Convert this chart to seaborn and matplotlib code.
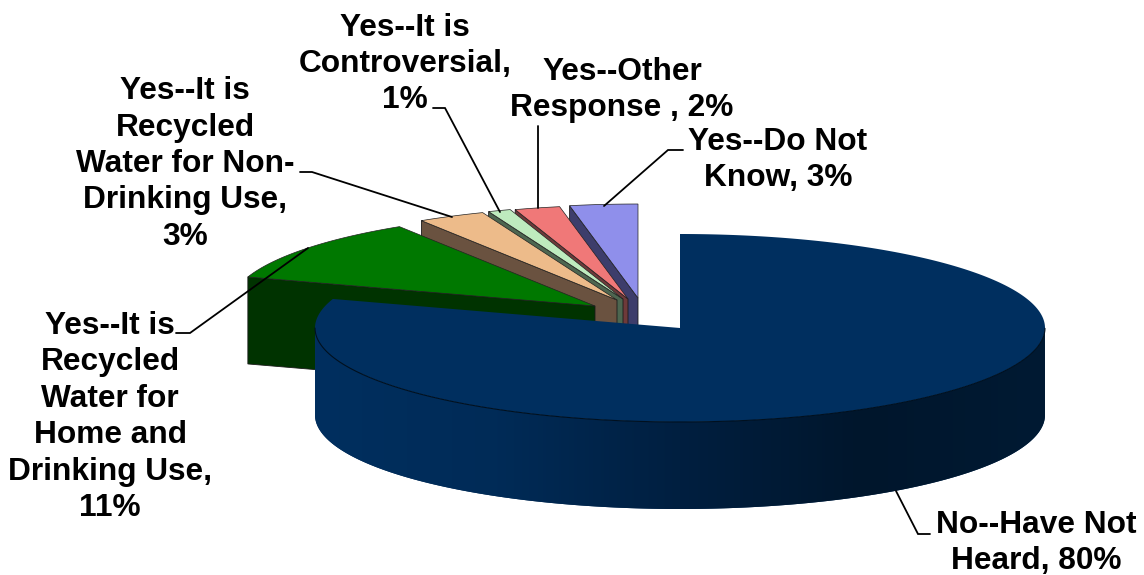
"""Survey pie: have you heard of recycled water, drawn as an exploded 3D pie."""

import matplotlib

matplotlib.use("Agg")

import matplotlib.pyplot as plt
import numpy as np
import seaborn as sns
from matplotlib.colors import LinearSegmentedColormap

# share of answers, clockwise from 12 o'clock
labels = [
    "No--Have Not\nHeard, 80%",
    "Yes--It is\nRecycled\nWater for\nHome and\nDrinking Use,\n11%",
    "Yes--It is\nRecycled\nWater for Non-\nDrinking Use,\n3%",
    "Yes--It is\nControversial,\n1%",
    "Yes--Other\nResponse , 2%",
    "Yes--Do Not\nKnow, 3%",
]
values = [80, 11, 3, 1, 2, 3]

top_colors = ["#002F5F", "#007800", "#EDBB8A", "#BEEBBE", "#F07878", "#8F8FEB"]
wall_colors = ["#002A55", "#003300", "#6A5240", "#4D6650", "#6E3A3A", "#3D3D6B"]

# pie geometry in pixels
CX, CY = 680, 328
RX, RY = 365, 94
DEPTH = 87
# how far each slice is pulled away from the centre
offsets = [(0, 0), (-85, -22), (-63, -28), (-57, -29), (-52, -29), (-42, -30)]

label_pos = [(1036, 543), (110, 417), (185, 164), (405, 64), (622, 90), (778, 160)]
leaders = [
    [(896, 491), (918, 534), (930, 534)],
    [(308, 248), (190, 333), (176, 333)],
    [(452, 217), (312, 172), (300, 172)],
    [(500, 212), (445, 108), (433, 108)],
    [(538, 208), (538, 126)],
    [(604, 206), (668, 150), (683, 150)],
]


def rim(theta, dx=0, dy=0):
    """Point on the pie rim, theta in degrees clockwise from the top."""
    rad = np.radians(theta)
    return CX + dx + RX * np.sin(rad), CY + dy - RY * np.cos(rad)


sns.set_theme(style="white")
plt.rcParams["font.family"] = ["Liberation Sans", "DejaVu Sans"]

fig, ax = plt.subplots(figsize=(11.44, 5.75), dpi=100)
fig.subplots_adjust(left=0, right=1, bottom=0, top=1)
ax.set_axis_off()

ends = np.cumsum(values) / np.sum(values) * 360
starts = np.r_[0, ends[:-1]]

# back slices first, the big one last so it covers their walls
for i in range(len(values) - 1, 0, -1):
    dx, dy = offsets[i]
    ax_x, ax_y = CX + dx, CY + dy
    edge_x, edge_y = rim(starts[i], dx, dy)
    ax.fill(
        [edge_x, ax_x, ax_x, edge_x],
        [edge_y, ax_y, ax_y + DEPTH, edge_y + DEPTH],
        color=wall_colors[i],
        ec="#1a1a1a",
        lw=0.6,
    )
    arc_x, arc_y = rim(np.linspace(starts[i], ends[i], 60), dx, dy)
    ax.fill(
        np.r_[ax_x, arc_x],
        np.r_[ax_y, arc_y],
        color=top_colors[i],
        ec="#222222",
        lw=0.5,
    )

# outer wall of the big slice, shaded from left to right
side_x, side_y = rim(np.linspace(90, 270, 200))
wall = ax.fill(
    np.r_[side_x, side_x[::-1]],
    np.r_[side_y, side_y[::-1] + DEPTH],
    color=wall_colors[0],
    lw=0,
)[0]
shade = LinearSegmentedColormap.from_list(
    "wall", ["#002F5F", "#002B57", "#001F40", "#00162C", "#001A33"]
)
gradient = ax.imshow(
    np.linspace(0, 1, 256)[None, :],
    cmap=shade,
    extent=(CX - RX, CX + RX, CY + RY + DEPTH, CY - RY),
    aspect="auto",
    zorder=wall.get_zorder() + 0.1,
)
gradient.set_clip_path(wall)

big_theta = np.linspace(starts[0], ends[0], 400)
arc_x, arc_y = rim(big_theta)
ax.fill(
    np.r_[CX, arc_x],
    np.r_[CY, arc_y],
    color=top_colors[0],
    lw=0,
    zorder=wall.get_zorder() + 0.2,
)
front = (big_theta >= 90) & (big_theta <= 270)
ax.plot(arc_x[front], arc_y[front], color="#00101f", lw=0.8, zorder=wall.get_zorder() + 0.3)

for line in leaders:
    xs, ys = zip(*line)
    ax.plot(xs, ys, color="black", lw=1.3, solid_joinstyle="miter", zorder=5)

for text, (x, y) in zip(labels, label_pos):
    ax.text(
        x,
        y,
        text,
        ha="center",
        va="center",
        ma="center",
        fontsize=22.8,
        fontweight="bold",
        color="black",
        linespacing=1.28,
        zorder=6,
    )

ax.set_xlim(0, 1144)
ax.set_ylim(575, 0)

fig.savefig("out.png", dpi=100, facecolor="white")
plt.close(fig)
